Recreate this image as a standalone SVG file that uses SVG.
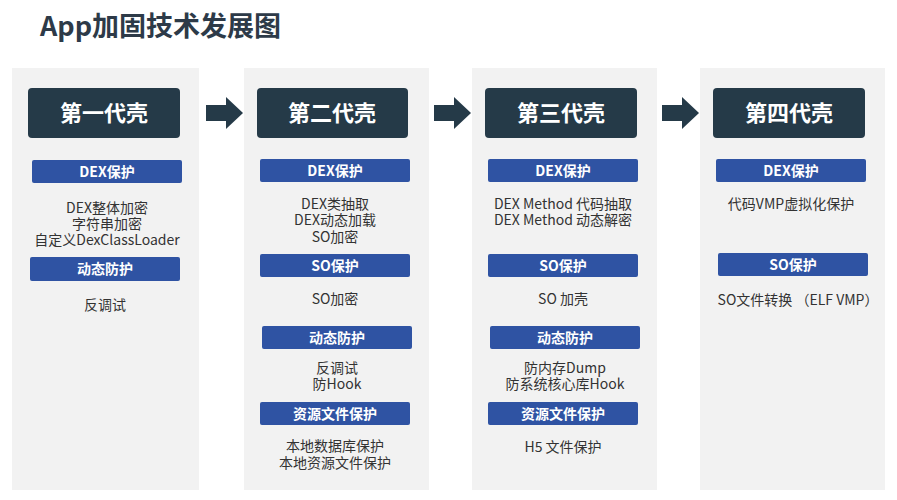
<svg xmlns="http://www.w3.org/2000/svg" width="897" height="500" viewBox="0 0 897 500">
<style>
.col{fill:#f2f2f2}
.hd{fill:#253a48}
.hdt{font-family:"Noto Sans CJK SC","Liberation Sans",sans-serif;font-size:22px;font-weight:bold;fill:#fff;text-anchor:middle}
.lb{fill:#2f53a3}
.lbt{font-family:"Noto Sans CJK SC","Liberation Sans",sans-serif;font-size:14px;font-weight:bold;fill:#fff;text-anchor:middle}
.tx{font-family:"Noto Sans CJK SC","Liberation Sans",sans-serif;font-size:14px;fill:#333;text-anchor:middle}
.ar{fill:#253a48}
</style>
<rect width="897" height="500" fill="#fff"/>
<text x="40" y="36" font-family="Noto Sans CJK SC,Liberation Sans,sans-serif" font-size="27" font-weight="bold" fill="#2d3a48">App加固技术发展图</text>
<g id="col1">
<rect class="col" x="12" y="68" width="187" height="422"/>
<rect class="hd" x="28" y="88" width="152" height="50" rx="4"/><text class="hdt" x="104" y="121">第一代壳</text>
<rect class="lb" x="32" y="160" width="150" height="23" rx="2"/><text class="lbt" x="107" y="177">DEX保护</text>
<text class="tx" x="107" y="213">DEX整体加密</text><text class="tx" x="107" y="229">字符串加密</text><text class="tx" x="107" y="245">自定义DexClassLoader</text>
<rect class="lb" x="30" y="257" width="150" height="24" rx="2"/><text class="lbt" x="105" y="274">动态防护</text>
<text class="tx" x="105" y="310">反调试</text>
</g>
<g id="col2">
<rect class="col" x="244" y="68" width="185" height="422"/>
<rect class="hd" x="257" y="88" width="151" height="50" rx="4"/><text class="hdt" x="332" y="121">第二代壳</text>
<rect class="lb" x="260" y="159" width="150" height="23" rx="2"/><text class="lbt" x="335" y="176">DEX保护</text>
<text class="tx" x="335" y="209">DEX类抽取</text><text class="tx" x="335" y="225">DEX动态加载</text><text class="tx" x="335" y="242">SO加密</text>
<rect class="lb" x="260" y="254" width="150" height="23" rx="2"/><text class="lbt" x="335" y="271">SO保护</text>
<text class="tx" x="335" y="304">SO加密</text>
<rect class="lb" x="262" y="326" width="150" height="23" rx="2"/><text class="lbt" x="337" y="343">动态防护</text>
<text class="tx" x="337" y="373">反调试</text><text class="tx" x="337" y="389">防Hook</text>
<rect class="lb" x="260" y="402" width="150" height="23" rx="2"/><text class="lbt" x="335" y="419">资源文件保护</text>
<text class="tx" x="335" y="451">本地数据库保护</text><text class="tx" x="335" y="468">本地资源文件保护</text>
</g>
<g id="col3">
<rect class="col" x="472" y="68" width="185" height="422"/>
<rect class="hd" x="485" y="88" width="152" height="50" rx="4"/><text class="hdt" x="561" y="121">第三代壳</text>
<rect class="lb" x="488" y="159" width="150" height="23" rx="2"/><text class="lbt" x="563" y="176">DEX保护</text>
<text class="tx" x="563" y="209">DEX Method 代码抽取</text><text class="tx" x="563" y="225">DEX Method 动态解密</text>
<rect class="lb" x="488" y="254" width="150" height="23" rx="2"/><text class="lbt" x="563" y="271">SO保护</text>
<text class="tx" x="563" y="304">SO 加壳</text>
<rect class="lb" x="490" y="326" width="150" height="23" rx="2"/><text class="lbt" x="565" y="343">动态防护</text>
<text class="tx" x="565" y="373">防内存Dump</text><text class="tx" x="565" y="389">防系统核心库Hook</text>
<rect class="lb" x="488" y="402" width="150" height="23" rx="2"/><text class="lbt" x="563" y="419">资源文件保护</text>
<text class="tx" x="563" y="452">H5 文件保护</text>
</g>
<g id="col4">
<rect class="col" x="700" y="68" width="185" height="422"/>
<rect class="hd" x="713" y="88" width="152" height="50" rx="4"/><text class="hdt" x="789" y="121">第四代壳</text>
<rect class="lb" x="716" y="159" width="150" height="23" rx="2"/><text class="lbt" x="791" y="176">DEX保护</text>
<text class="tx" x="791" y="209">代码VMP虚拟化保护</text>
<rect class="lb" x="718" y="253" width="150" height="23" rx="2"/><text class="lbt" x="793" y="270">SO保护</text>
<text class="tx" x="798" y="305">SO文件转换 （ELF VMP）</text>
</g>
<g id="connectors">
<polygon class="ar" points="206,105 226,105 226,97 243,113 226,129 226,121 206,121"/>
<polygon class="ar" points="434,105 454,105 454,97 471,113 454,129 454,121 434,121"/>
<polygon class="ar" points="662,105 682,105 682,97 699,113 682,129 682,121 662,121"/>
</g>
</svg>
